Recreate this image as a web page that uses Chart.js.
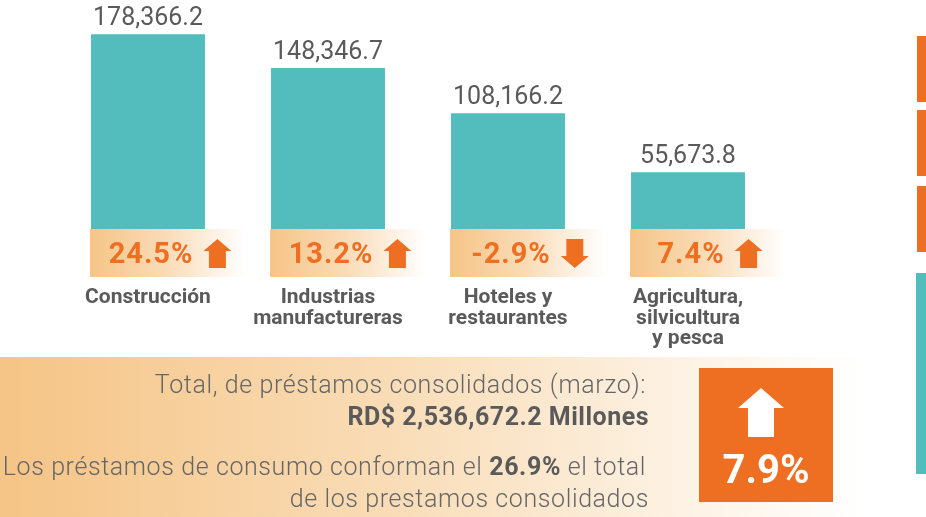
<!DOCTYPE html>
<html>
<head>
<meta charset="utf-8">
<script src="https://cdn.jsdelivr.net/npm/chart.js@4.4.0/dist/chart.umd.min.js"></script>
<style>
  html, body { margin: 0; padding: 0; background: #fff; }
  #wrap { width: 926px; height: 517px; position: relative; }
</style>
</head>
<body>
<div id="wrap"><canvas id="sectorChart"></canvas></div>
<script>
// data
const categories = [
  ['Construcción'],
  ['Industrias', 'manufactureras'],
  ['Hoteles y', 'restaurantes'],
  ['Agricultura,', 'silvicultura', 'y pesca']
];
const loanValues = [178366.2, 148346.7, 108166.2, 55673.8];
const yearChange = [24.5, 13.2, -2.9, 7.4];
const totalLabel = 'Total, de préstamos consolidados (marzo):';
const totalValue = 'RD$ 2,536,672.2 Millones';
const consumoShare = '26.9%';
const totalChange = '7.9%';

const TEAL = '#53bdbd';
const ORANGE = '#ee6e22';
const GREY = '#5a5a5a';
const FONT = 'Roboto, "Noto Sans", sans-serif';

function fmt(v) {
  return v.toLocaleString('en-US', { minimumFractionDigits: 1, maximumFractionDigits: 1 });
}

// block arrow, up or down
function arrow(ctx, x, y, w, h, headH, stemW, up, color) {
  const cx = x + w / 2;
  ctx.fillStyle = color;
  ctx.beginPath();
  if (up) {
    ctx.moveTo(cx, y);
    ctx.lineTo(x + w, y + headH);
    ctx.lineTo(cx + stemW / 2, y + headH);
    ctx.lineTo(cx + stemW / 2, y + h);
    ctx.lineTo(cx - stemW / 2, y + h);
    ctx.lineTo(cx - stemW / 2, y + headH);
    ctx.lineTo(x, y + headH);
  } else {
    ctx.moveTo(cx - stemW / 2, y);
    ctx.lineTo(cx + stemW / 2, y);
    ctx.lineTo(cx + stemW / 2, y + h - headH);
    ctx.lineTo(x + w, y + h - headH);
    ctx.lineTo(cx, y + h);
    ctx.lineTo(x, y + h - headH);
    ctx.lineTo(cx - stemW / 2, y + h - headH);
  }
  ctx.closePath();
  ctx.fill();
}

const decor = {
  id: 'decor',
  beforeDraw(chart) {
    const ctx = chart.ctx;
    ctx.save();
    ctx.fillStyle = '#fff';
    ctx.fillRect(0, 0, chart.width, chart.height);

    // bottom banner
    const g = ctx.createLinearGradient(0, 0, 860, 0);
    g.addColorStop(0, '#f5c486');
    g.addColorStop(0.45, '#f9dcb6');
    g.addColorStop(1, '#ffffff');
    ctx.fillStyle = g;
    ctx.fillRect(0, 357, 860, 160);

    // right side strips
    ctx.fillStyle = ORANGE;
    ctx.fillRect(917, 36, 9, 66);
    ctx.fillRect(917, 110, 9, 66);
    ctx.fillRect(917, 186, 9, 66);
    ctx.fillStyle = TEAL;
    ctx.fillRect(916, 273, 10, 201);

    // banner text
    const light = '300 25px ' + FONT;
    const heavy = 'bold 25px ' + FONT;
    ctx.letterSpacing = '0.6px';
    ctx.textAlign = 'right';
    ctx.textBaseline = 'alphabetic';
    ctx.fillStyle = '#666';
    ctx.font = light;
    ctx.fillText(totalLabel, 646, 393);
    ctx.fillStyle = GREY;
    ctx.font = heavy;
    ctx.letterSpacing = '0.5px';
    ctx.fillText(totalValue, 649, 425);
    ctx.letterSpacing = '0.6px';

    // mixed line: light / bold / light
    const right = 646;
    const p1 = 'Los préstamos de consumo conforman el ';
    const p3 = ' el total';
    ctx.font = light;
    const w3 = ctx.measureText(p3).width;
    const w1 = ctx.measureText(p1).width;
    ctx.font = heavy;
    const w2 = ctx.measureText(consumoShare).width;
    ctx.textAlign = 'left';
    let x = right - w3 - w2 - w1;
    ctx.fillStyle = '#666';
    ctx.font = light;
    ctx.fillText(p1, x, 475);
    ctx.fillStyle = GREY;
    ctx.font = heavy;
    ctx.fillText(consumoShare, x + w1, 475);
    ctx.fillStyle = '#666';
    ctx.font = light;
    ctx.fillText(p3, x + w1 + w2, 475);
    ctx.textAlign = 'right';
    ctx.fillText('de los prestamos consolidados', 649, 507);
    ctx.letterSpacing = '0px';

    // total change box
    ctx.fillStyle = ORANGE;
    ctx.fillRect(699, 368, 134, 134);
    arrow(ctx, 738, 388, 46, 49, 20, 26, true, '#fff');
    ctx.fillStyle = '#fff';
    ctx.textAlign = 'center';
    ctx.font = 'bold 40px ' + FONT;
    ctx.fillText(totalChange, 766, 483);
    ctx.restore();
  },
  afterDatasetsDraw(chart) {
    const ctx = chart.ctx;
    const meta = chart.getDatasetMeta(0);
    ctx.save();
    meta.data.forEach((bar, i) => {
      const left = bar.x - bar.width / 2;

      // value above bar
      ctx.letterSpacing = '0px';
      ctx.fillStyle = GREY;
      ctx.font = '25px ' + FONT;
      ctx.textAlign = 'center';
      ctx.textBaseline = 'alphabetic';
      ctx.fillText(fmt(loanValues[i]), bar.x, bar.y - 9);

      // change badge
      const bx = left - 1, by = 229, bw = 155, bh = 48;
      const g = ctx.createLinearGradient(bx, 0, bx + bw, 0);
      g.addColorStop(0, '#f5c587');
      g.addColorStop(0.5, '#fadcb8');
      g.addColorStop(1, 'rgba(255,255,255,1)');
      ctx.fillStyle = g;
      ctx.fillRect(bx, by, bw, bh);

      const txt = yearChange[i].toFixed(1) + '%';
      ctx.font = 'bold 29px ' + FONT;
      ctx.letterSpacing = '1px';
      const tw = ctx.measureText(txt).width;
      const groupW = tw + 10 + 28;
      const gx = left + 79 - groupW / 2;
      ctx.fillStyle = ORANGE;
      ctx.textAlign = 'left';
      ctx.fillText(txt, gx, 263);
      ctx.letterSpacing = '0px';
      arrow(ctx, gx + tw + 10, 239, 28, 29, 12, 17, yearChange[i] >= 0, ORANGE);

      // category name
      ctx.fillStyle = GREY;
      ctx.font = 'bold 21px ' + FONT;
      ctx.textAlign = 'center';
      categories[i].forEach((line, k) => {
        ctx.fillText(line, bar.x, 303 + k * 20.5);
      });
    });
    ctx.restore();
  }
};

new Chart(document.getElementById('sectorChart'), {
  type: 'bar',
  data: {
    labels: categories,
    datasets: [{
      data: loanValues,
      backgroundColor: TEAL,
      borderWidth: 0,
      barPercentage: 0.633,
      categoryPercentage: 1
    }]
  },
  options: {
    responsive: true,
    maintainAspectRatio: false,
    animation: false,
    layout: { padding: { left: 58, right: 148, top: 10, bottom: 282 } },
    plugins: {
      legend: { display: false },
      tooltip: { enabled: false }
    },
    scales: {
      x: { display: false },
      y: { display: false, min: 0, max: 200000 }
    }
  },
  plugins: [decor]
});
</script>
</body>
</html>
